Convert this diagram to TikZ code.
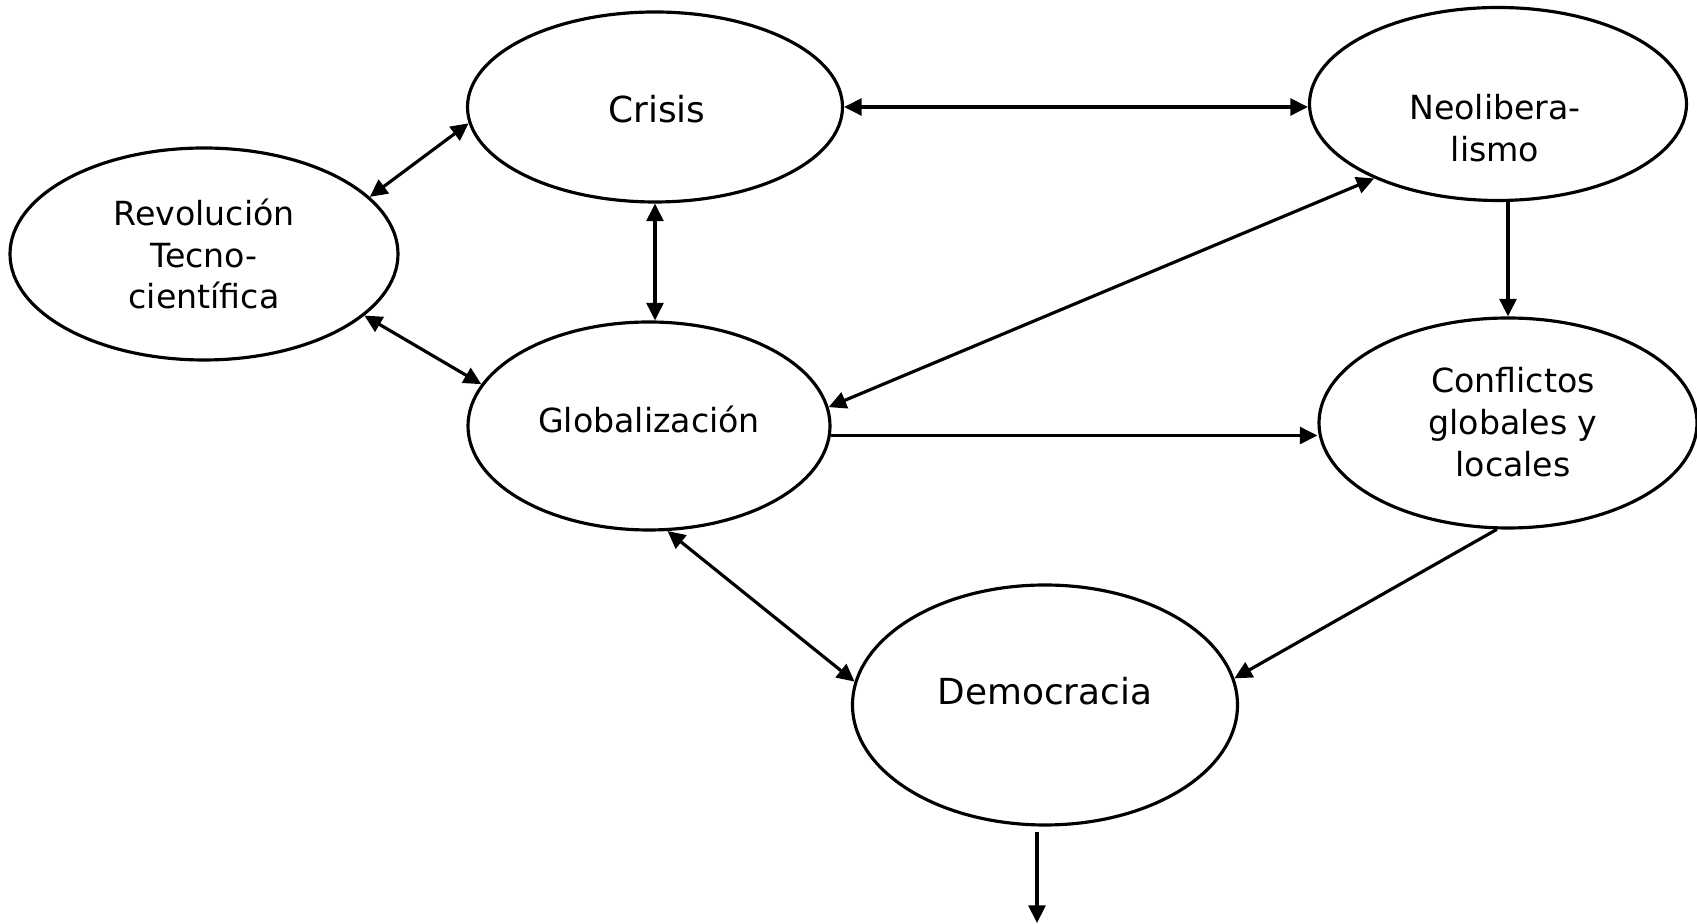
\documentclass[tikz,border=0pt]{standalone}
\usepackage{fontspec}
\setmainfont{DejaVu Sans}
\usetikzlibrary{shapes.geometric, arrows.meta}

\begin{document}
\begin{tikzpicture}[
        concepto/.style={draw, ellipse, line width=0.9pt, inner sep=0pt},
        texto/.style={align=center, inner sep=0pt, font=\fontsize{9.45}{11.9}\selectfont},
        textogrande/.style={texto, font=\fontsize{10.2}{12}\selectfont},
        flecha/.style={line width=0.9pt, -{Triangle[length=5pt, width=4.8pt]}},
        dflecha/.style={line width=0.9pt, {Triangle[length=5pt, width=4.8pt]}-{Triangle[length=5pt, width=4.8pt]}}
    ]
            % Page size
            \useasboundingbox (0, 0) rectangle (16.97, 9.24);

            % Ellipses of the concepts
            \node[concepto, minimum width=3.75cm, minimum height=1.90cm] (crisis) at (6.55, 8.17) {};
            \node[concepto, minimum width=3.77cm, minimum height=1.93cm] (neo) at (14.98, 8.20) {};
            \node[concepto, minimum width=3.88cm, minimum height=2.12cm] (rev) at (2.04, 6.70) {};
            \node[concepto, minimum width=3.62cm, minimum height=2.08cm] (glob) at (6.49, 4.98) {};
            \node[concepto, minimum width=3.78cm, minimum height=2.10cm] (conf) at (15.08, 5.01) {};
            \node[concepto, minimum width=3.85cm, minimum height=2.40cm] (dem) at (10.45, 2.19) {};

            % Texts inside the ellipses
            \node[textogrande] (crisistxt) at (6.57, 8.15) {Crisis};
            \node[texto] (neotxt) at (14.95, 7.96) {Neolibera-\\lismo};
            \node[texto] (revtxt) at (2.04, 6.70) {Revolución\\Tecno-\\científica};
            \node[texto] (globtxt) at (6.49, 5.05) {Globalización};
            \node[texto] (conftxt) at (15.13, 5.02) {Conflictos\\globales y\\locales};
            \node[textogrande] (demtxt) at (10.45, 2.33) {Democracia};

            % Two-way arrows
            \draw[dflecha] (crisis.east) -- (crisis.east -| neo.west);
            \draw[dflecha] (crisis.185) -- (rev.19);
            \draw[dflecha] (crisis.south) -- (crisis.south |- glob.north);
            \draw[dflecha] (rev.-21) -- (glob.166);
            \draw[dflecha] (neo.211) -- (glob.6);
            \draw[dflecha] (glob.280) -- (dem.173);

            % One-way arrows
            \draw[flecha] (conf.north |- neo.south) -- (conf.north);
            \draw[flecha] (glob.-3) -- (glob.-3 -| conf.west);
            \draw[flecha] (conf.264) -- (dem.8);

            % Arrow leaving the picture
            \coordinate (fin) at (10.37, 0.01);
            \draw[flecha] ([yshift=-0.05cm]dem.south -| fin) -- (fin);

        \end{tikzpicture}
\end{document}
